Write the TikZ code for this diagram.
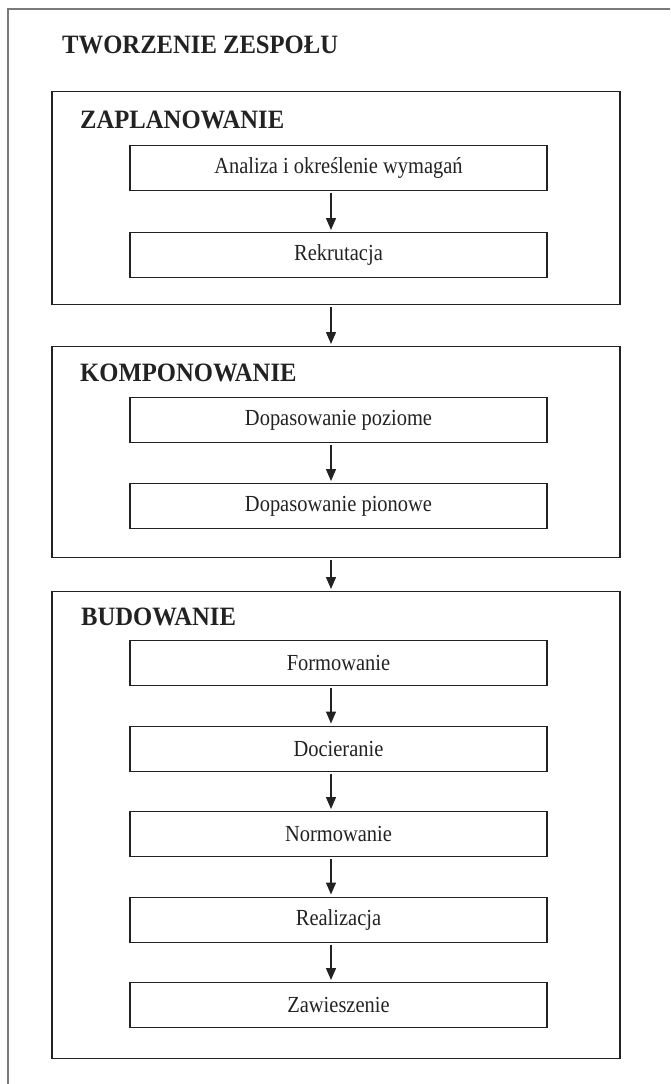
\documentclass[tikz,border=0pt]{standalone}
\usepackage{fontspec}
\setmainfont{Liberation Serif}[FakeStretch=0.89]
\newfontfamily\headfont{Liberation Serif}[FakeStretch=0.93]
\usetikzlibrary{arrows.meta}
\definecolor{ink}{HTML}{222222}
\definecolor{frame}{HTML}{7A7A7A}
\tikzset{
  sec/.style={draw=ink, line width=1.3pt, minimum width=568pt, anchor=north, inner sep=0pt},
  stepbox/.style={draw=ink, line width=1.3pt, minimum width=417pt, minimum height=45pt, anchor=north, inner sep=0pt, text=ink, font=\fontsize{23}{27}\selectfont},
  head/.style={anchor=west, inner sep=0pt, text=ink, font=\headfont\fontsize{26.5}{30}\selectfont\bfseries},
  arr/.style={draw=ink, line width=1.4pt, -{Triangle[width=10pt,length=12pt]}, shorten <=2pt, shorten >=2pt}
}
\begin{document}
\begin{tikzpicture}[x=1pt,y=-1pt]
\useasboundingbox (0,0) rectangle (670,1084);
\clip (0,0) rectangle (670,1084);
\draw[frame, line width=1.6pt] (8,1100) -- (8,9) -- (690,9);
\node[head] (title) at (62,45) {TWORZENIE ZESPOŁU};
\coordinate (ax) at (331,0);
% section 1
\node[sec, minimum height=213pt] (s1) at (336,91) {};
\node[head] (h1) at (80,120) {ZAPLANOWANIE};
\node[stepbox] (a1) at (338.5,145) {Analiza i określenie wymagań};
\node[stepbox] (a2) at (338.5,232) {Rekrutacja};
% section 2
\node[sec, minimum height=211pt] (s2) at (336,346) {};
\node[head] (h2) at (80,373) {KOMPONOWANIE};
\node[stepbox] (b1) at (338.5,397) {Dopasowanie poziome};
\node[stepbox] (b2) at (338.5,483) {Dopasowanie pionowe};
% section 3
\node[sec, minimum height=467pt] (s3) at (336,591) {};
\node[head] (h3) at (81,617) {BUDOWANIE};
\node[stepbox] (c1) at (338.5,640) {Formowanie};
\node[stepbox] (c2) at (338.5,725.5) {Docieranie};
\node[stepbox] (c3) at (338.5,811) {Normowanie};
\node[stepbox] (c4) at (338.5,896.5) {Realizacja};
\node[stepbox] (c5) at (338.5,982) {Zawieszenie};
% arrows
\draw[arr] (a1.south -| ax) -- (a2.north -| ax);
\draw[arr] (s1.south -| ax) -- (s2.north -| ax);
\draw[arr] (b1.south -| ax) -- (b2.north -| ax);
\draw[arr] (s2.south -| ax) -- (s3.north -| ax);
\draw[arr] (c1.south -| ax) -- (c2.north -| ax);
\draw[arr] (c2.south -| ax) -- (c3.north -| ax);
\draw[arr] (c3.south -| ax) -- (c4.north -| ax);
\draw[arr] (c4.south -| ax) -- (c5.north -| ax);
\end{tikzpicture}
\end{document}
